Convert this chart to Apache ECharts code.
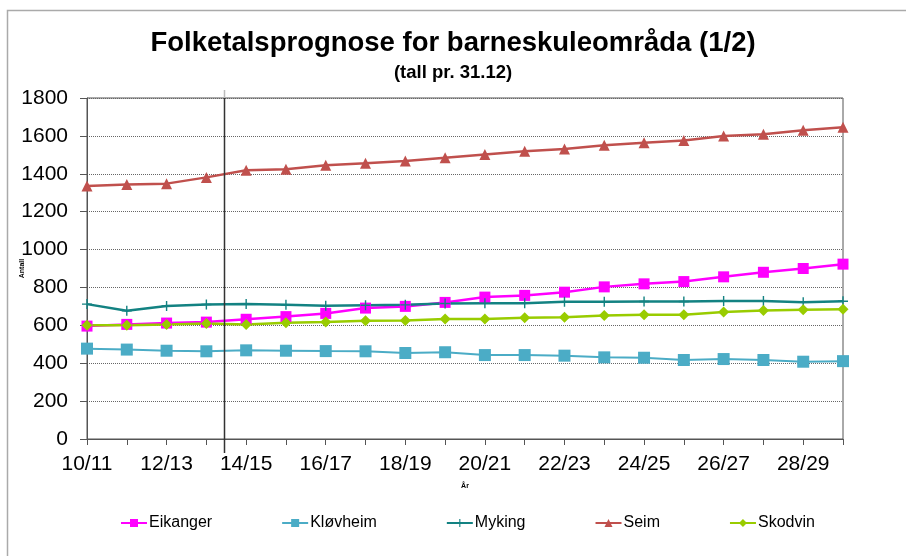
<!DOCTYPE html>
<html>
<head>
<meta charset="utf-8">
<script src="https://cdn.jsdelivr.net/npm/echarts@6/dist/echarts.min.js"></script>
<style>html,body{margin:0;padding:0;background:#fff;}#c{width:906px;height:556px;}</style>
</head>
<body>
<div id="c"></div>
<script>
const categories = ['10/11','11/12','12/13','13/14','14/15','15/16','16/17','17/18','18/19','19/20','20/21','21/22','22/23','23/24','24/25','25/26','26/27','27/28','28/29','29/30'];
const eikanger = [596,605,612,617,632,646,663,691,700,721,749,758,775,803,819,831,856,880,900,923];
const klovheim = [477,472,466,463,468,466,464,463,454,458,443,443,440,431,429,417,422,417,408,411];
const myking   = [712,677,702,710,712,708,703,706,708,715,717,717,724,724,726,726,729,729,722,727];
const seim     = [1336,1344,1348,1381,1419,1424,1445,1456,1468,1484,1502,1519,1531,1550,1564,1576,1599,1609,1630,1646];
const skodvin  = [600,601,605,610,605,613,617,624,626,633,634,640,643,652,656,656,670,678,682,685];
const yTicks = {min: 0, max: 1800, interval: 200};
const dividerIndex = 3.44;

const FONT = "'Liberation Sans', Arial, sans-serif";
const chart = echarts.init(document.getElementById('c'), null, {renderer: 'canvas'});
const plus = 'path://M4.3,0h1.4v4.3h4.3v1.4h-4.3v4.3h-1.4v-4.3h-4.3v-1.4h4.3z';

function mk(name, data, color, symbol, size, width) {
  return {
    name, type: 'line', data, symbol, symbolSize: size, showSymbol: true,
    lineStyle: {color, width}, itemStyle: {color}, animation: false
  };
}

chart.setOption({
  animation: false,
  backgroundColor: '#fff',
  textStyle: {fontFamily: FONT},
  title: {
    text: 'Folketalsprognose for barneskuleområda (1/2)',
    subtext: '(tall pr. 31.12)',
    left: 'center', top: 24, itemGap: 6,
    textStyle: {fontFamily: FONT, fontSize: 27.5, fontWeight: 'bold', color: '#000'},
    subtextStyle: {fontFamily: FONT, fontSize: 18.5, fontWeight: 'bold', color: '#000'}
  },
  legend: {
    left: 115, top: 510, itemGap: 69, itemWidth: 26, itemHeight: 10,
    textStyle: {fontFamily: FONT, fontSize: 16, color: '#000', padding: [0,0,0,-3]},
    data: ['Eikanger','Kløvheim','Myking','Seim','Skodvin']
  },
  grid: {left: 87, right: 63, top: 98, bottom: 117, show: true, borderColor: '#555', borderWidth: 1, backgroundColor: 'transparent'},
  xAxis: {
    type: 'category', data: categories, boundaryGap: false,
    name: 'År', nameLocation: 'middle', nameGap: 44, nameMoveOverlap: false,
    nameTextStyle: {fontSize: 7, fontWeight: 'bold', color: '#000'},
    axisLine: {lineStyle: {color: '#555', width: 1}},
    axisTick: {show: true, interval: 0, length: 6, lineStyle: {color: '#555'}},
    axisLabel: {interval: 1, fontSize: 21, color: '#000', margin: 15, fontFamily: FONT},
    splitLine: {show: false}
  },
  yAxis: {
    type: 'value', min: yTicks.min, max: yTicks.max, interval: yTicks.interval,
    name: 'Antall', nameLocation: 'middle', nameGap: 61, nameRotate: 90, nameMoveOverlap: false,
    nameTextStyle: {fontSize: 7, fontWeight: 'bold', color: '#000'},
    axisLine: {show: true, lineStyle: {color: '#555', width: 1}},
    axisTick: {show: true, length: 7, lineStyle: {color: '#555'}},
    axisLabel: {fontSize: 21, color: '#000', margin: 19, fontFamily: FONT, formatter: v => String(v)},
    splitLine: {show: true, lineStyle: {color: '#666', type: 'dotted', width: 1}}
  },
  series: [
    mk('Eikanger', eikanger, '#FF00FF', 'rect', 11, 2.5),
    mk('Kløvheim', klovheim, '#4BACC6', 'rect', 12, 2),
    mk('Myking', myking, '#138282', plus, 10, 2.5),
    mk('Seim', seim, '#C0504D', 'triangle', 11, 2.5),
    mk('Skodvin', skodvin, '#99CC00', 'diamond', 11, 2.5)
  ]
});

// decorative frame and divider line
const x3 = chart.convertToPixel({xAxisIndex: 0}, 3);
const x4 = chart.convertToPixel({xAxisIndex: 0}, 4);
const xd = Math.round(x3 + (x4 - x3) * (dividerIndex - 3)) + 0.5;
chart.setOption({
  graphic: [
    {type: 'rect', shape: {x: 7.5, y: 10.5, width: 1200, height: 1200}, style: {fill: 'none', stroke: '#aaa', lineWidth: 1.5}, silent: true, z: -1},
    {type: 'line', shape: {x1: xd, y1: 90, x2: xd, y2: 98}, style: {stroke: '#bbb', lineWidth: 1.5}, silent: true, z: 10},
    {type: 'line', shape: {x1: xd, y1: 98, x2: xd, y2: 453}, style: {stroke: '#333', lineWidth: 1.5}, silent: true, z: 10}
  ]
});
</script>
</body>
</html>
